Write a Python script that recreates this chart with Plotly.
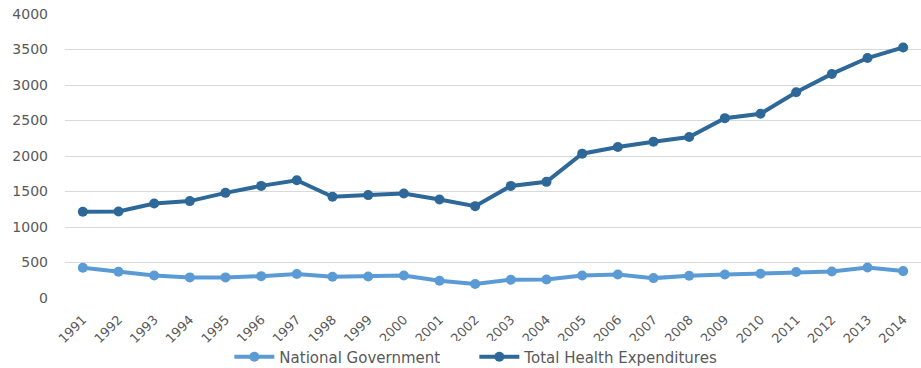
import plotly.graph_objects as go

years = [str(y) for y in range(1991, 2015)]

national_government = [425, 369, 318, 290, 290, 308, 337, 299, 303, 318, 243, 196,
                       257, 261, 317, 331, 280, 313, 331, 341, 365, 373, 429, 379]

total_health_expenditures = [1215, 1218, 1332, 1365, 1481, 1579, 1659, 1425, 1449, 1473,
                             1388, 1294, 1579, 1636, 2033, 2126, 2202, 2267, 2533, 2595,
                             2898, 3156, 3380, 3529]

y_ticks = [0, 500, 1000, 1500, 2000, 2500, 3000, 3500, 4000]

fig = go.Figure()
fig.add_trace(go.Scatter(
    x=years, y=national_government, name="National Government",
    mode="lines+markers",
    line=dict(color="#5B9BD5", width=4),
    marker=dict(color="#5B9BD5", size=10),
))
fig.add_trace(go.Scatter(
    x=years, y=total_health_expenditures, name="Total Health Expenditures",
    mode="lines+markers",
    line=dict(color="#2D6898", width=4),
    marker=dict(color="#2D6898", size=10),
))

fig.update_layout(
    width=921, height=368,
    margin=dict(l=65, r=0, t=14, b=70, autoexpand=False),
    paper_bgcolor="white", plot_bgcolor="white",
    font=dict(family="DejaVu Sans", size=13, color="#595959"),
    showlegend=True,
    legend=dict(orientation="h", x=0.192, xanchor="left", y=-0.208, yanchor="middle",
                font=dict(family="DejaVu Sans", size=15, color="#595959"),
                itemwidth=40, entrywidth=190, entrywidthmode="pixels"),
    xaxis=dict(type="category", range=[-0.5, 23.5], tickangle=-45, automargin=False,
               showgrid=False, showline=False, zeroline=False, ticks="outside",
               ticklen=8, tickcolor="rgba(0,0,0,0)",
               tickfont=dict(size=13)),
    yaxis=dict(range=[0, 4000], tickvals=y_ticks, showgrid=True, automargin=False,
               gridcolor="#D9D9D9", gridwidth=1, zeroline=False, showline=False,
               ticks="", ticklabelstandoff=16, tickfont=dict(size=14)),
)

fig.write_html("out.html")
